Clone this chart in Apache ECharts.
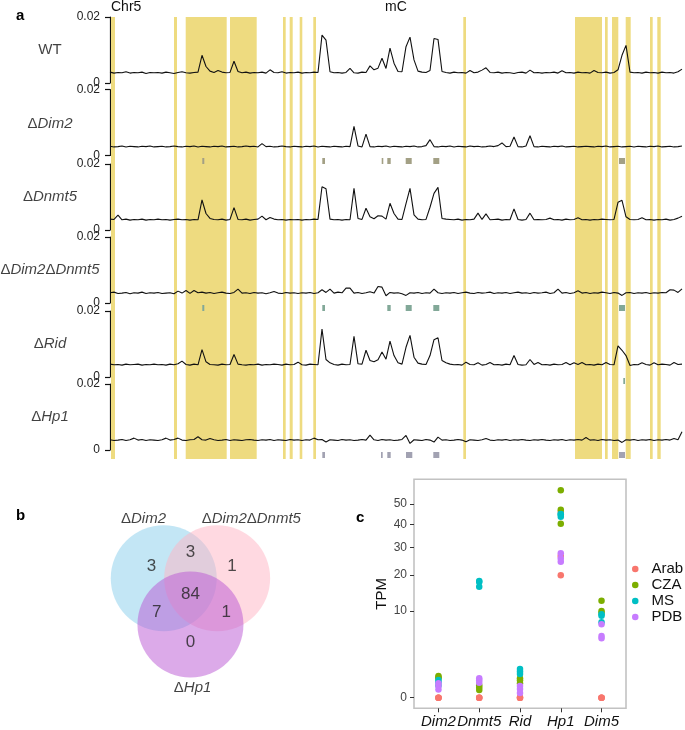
<!DOCTYPE html>
<html><head><meta charset="utf-8">
<script src="https://cdn.jsdelivr.net/npm/echarts@6/dist/echarts.min.js"></script>
<style>html,body{margin:0;padding:0;background:#fff}#c{width:685px;height:730px}</style>
</head><body><div id="c"></div>
<script>
const FONT = '"Liberation Sans", Arial, Helvetica, sans-serif';

// ---------- panel a : methylation tracks on Chr5 (values in 1e-3 units) ----------
const chromLenKb = 5750;
const binKb = 40;
const trackLabels = ['WT', 'ΔDim2', 'ΔDnmt5', 'ΔDim2ΔDnmt5', 'ΔRid', 'ΔHp1'];
const mcWT = [
 3.3,3.0,3.2,3.1,3.4,3.0,3.2,3.1,3.3,2.9,3.2,3.1,
 3.2,3.0,3.3,3.1,2.9,3.2,3.4,3.1,3.0,3.2,3.3,8.4,
 5.0,3.6,3.2,3.8,3.3,3.1,3.2,6.6,3.5,3.1,3.3,3.0,
 3.2,3.1,3.3,3.0,4.0,3.2,3.1,3.4,3.0,3.2,3.1,3.3,
 3.0,3.2,3.1,3.3,3.2,14.5,13.0,3.4,3.1,3.2,3.0,3.2,
 4.4,3.1,3.0,3.3,3.2,5.2,4.0,4.5,7.5,4.4,10.6,6.0,
 3.5,3.4,11.0,13.9,7.0,3.6,3.3,3.2,3.8,13.5,13.2,3.5,
 3.2,3.0,3.3,3.1,3.2,3.0,3.8,3.1,3.3,3.9,4.6,3.2,
 3.1,3.3,3.0,3.2,3.1,2.9,3.2,3.3,3.0,3.9,3.1,3.2,
 3.0,3.2,3.1,3.3,3.0,3.7,3.1,3.2,3.0,3.3,3.1,3.2,
 3.0,3.8,3.2,3.1,3.3,3.0,3.2,4.0,8.4,11.4,3.3,3.1,
 3.2,3.0,3.3,3.1,3.2,3.0,3.3,3.1,3.2,3.0,3.4,4.2];
const mcDim2 = [
 2.8,2.6,2.7,2.9,2.6,2.8,2.7,2.6,2.8,2.7,2.9,2.6,
 2.7,2.8,2.6,2.7,2.9,2.7,2.6,2.8,2.7,2.9,2.6,2.8,
 2.7,2.6,2.8,2.7,2.9,2.6,2.7,2.8,2.6,2.7,2.9,2.7,
 2.8,2.6,3.6,2.7,2.8,2.6,2.7,2.9,2.7,2.6,2.8,2.7,
 2.6,2.8,2.7,2.9,2.6,2.8,2.7,2.6,2.8,2.7,2.6,2.8,
 2.7,8.8,2.9,2.6,6.5,2.7,2.6,2.8,2.7,2.9,2.6,2.8,
 2.7,2.6,2.8,2.7,2.9,2.6,2.7,3.0,4.8,2.7,2.6,2.8,
 2.7,2.9,2.6,2.8,2.7,2.6,2.9,2.7,2.8,2.6,2.7,2.9,
 2.7,3.0,3.8,2.7,2.8,5.6,2.7,2.6,2.9,6.0,2.7,2.6,
 2.8,2.7,2.6,2.8,2.7,2.9,2.6,2.7,2.8,2.6,2.7,2.8,
 2.7,2.6,2.8,2.7,2.9,2.6,2.7,2.8,2.6,2.7,2.8,2.6,
 2.8,2.7,2.6,2.8,2.7,2.9,2.6,2.7,2.8,2.6,2.7,2.9];
const mcDnmt5 = [
 3.3,3.2,4.5,3.1,3.3,3.0,3.2,3.1,3.3,3.0,3.2,3.1,
 3.3,3.1,3.2,3.0,3.2,3.3,3.1,3.2,3.0,3.2,3.1,9.1,
 5.0,3.5,3.2,3.1,3.3,3.0,3.2,6.8,3.2,3.1,3.3,3.0,
 3.2,3.3,4.2,3.1,3.8,3.3,3.1,3.2,3.0,3.2,3.1,3.2,
 3.0,3.2,3.1,3.3,3.2,13.1,12.5,3.3,3.1,3.2,3.0,3.2,
 3.1,12.6,3.5,3.2,6.6,4.0,3.4,4.3,4.2,3.3,8.1,5.0,
 3.3,3.2,8.0,12.6,4.6,3.3,3.1,3.2,6.9,11.1,12.9,3.5,
 3.3,3.2,3.1,3.3,3.0,3.2,3.1,3.3,5.1,3.2,4.9,3.1,
 3.2,3.3,3.0,3.2,3.1,6.4,3.2,3.0,3.2,5.1,3.1,3.2,
 3.1,3.2,3.6,3.1,3.2,3.0,3.3,3.1,3.2,3.7,3.1,3.2,
 3.0,3.2,3.1,3.3,3.2,3.1,3.2,8.4,9.0,4.0,3.2,3.1,
 3.2,3.7,3.1,3.2,3.0,3.2,3.1,3.3,3.0,3.2,3.6,4.2];
const mcDim2Dnmt5 = [
 3.1,3.3,2.9,3.0,3.2,2.8,3.1,3.0,3.3,2.9,3.1,3.0,
 3.2,2.9,3.0,3.1,2.8,3.6,3.0,3.8,2.9,3.8,3.1,3.3,
 3.0,3.2,2.9,3.1,3.3,3.0,2.9,3.2,4.2,3.0,3.1,2.9,
 3.2,3.0,3.1,2.8,3.1,3.5,3.0,2.9,3.2,3.0,3.1,2.9,
 3.1,3.0,3.2,2.9,3.1,4.0,3.2,4.2,3.0,3.3,3.1,4.5,
 4.5,3.0,3.2,2.9,3.1,3.4,3.0,5.0,4.8,2.2,3.2,3.0,
 3.1,2.8,2.3,3.1,3.0,3.2,2.9,3.1,3.0,4.2,3.1,2.9,
 3.1,3.0,3.2,2.9,3.1,3.3,3.0,2.9,3.2,3.0,3.1,3.3,
 2.9,3.1,3.0,3.2,2.9,3.1,3.3,3.0,3.1,2.9,3.2,3.0,
 3.1,3.3,2.9,3.1,4.2,3.0,3.2,2.9,3.1,3.7,3.0,3.2,
 2.9,3.1,3.0,3.3,3.1,2.9,3.2,3.0,2.3,3.1,3.2,2.9,
 3.1,3.0,3.2,2.9,3.1,3.0,3.2,3.1,4.0,3.9,3.2,4.3];
const mcRid = [
 3.9,3.7,3.8,3.6,3.9,3.7,3.8,3.9,3.6,3.8,3.7,3.9,
 3.7,3.8,3.6,3.9,3.7,4.0,4.8,3.8,3.6,3.9,3.7,8.3,
 4.6,3.8,3.7,3.6,3.9,3.7,3.8,6.8,3.9,3.7,3.6,3.8,
 3.7,3.9,3.6,3.8,3.7,3.9,3.8,3.6,3.9,3.7,3.8,4.5,
 3.7,3.6,3.9,3.8,3.7,14.5,5.3,4.3,3.8,3.6,3.9,3.7,
 3.8,12.3,4.0,3.9,8.1,5.0,4.6,5.2,7.6,5.4,10.9,6.5,
 4.3,3.9,9.0,12.6,6.0,4.2,3.9,3.8,6.5,11.3,11.9,5.0,
 4.3,3.9,3.7,3.8,3.6,4.5,3.8,3.7,4.3,3.6,3.8,4.4,
 3.7,3.8,3.6,3.9,3.7,6.5,3.8,3.6,3.7,5.3,3.8,4.4,
 3.7,3.8,3.6,3.9,3.7,3.8,4.4,3.7,4.3,3.8,4.4,3.7,
 3.8,3.6,3.9,3.7,4.4,3.8,3.7,9.4,8.1,6.5,3.5,3.8,
 3.7,4.3,3.8,3.6,4.3,3.7,3.9,3.8,3.6,4.4,3.8,3.9];
const mcHp1 = [
 3.1,2.9,3.0,3.2,2.9,3.1,3.6,3.0,3.2,2.9,3.1,3.0,
 2.9,3.1,3.6,3.0,3.2,3.6,3.0,2.9,3.1,3.2,4.0,3.1,
 3.0,3.5,3.1,2.9,3.0,3.2,2.9,3.1,3.0,2.9,3.1,3.2,
 3.0,2.9,3.1,3.0,3.2,2.9,3.1,3.0,2.9,3.2,3.0,3.1,
 2.9,3.1,3.0,3.6,3.1,3.2,2.4,3.1,3.0,2.9,3.2,3.0,
 3.1,2.9,3.0,3.2,3.0,4.5,3.1,2.9,3.2,3.0,3.1,2.9,
 3.0,3.2,4.4,2.0,3.1,3.0,2.9,3.2,3.0,2.4,3.9,3.0,
 3.1,2.9,3.0,3.2,3.0,2.5,3.1,3.0,2.9,3.1,3.5,3.0,
 2.9,3.1,3.0,3.2,2.9,3.1,3.0,3.2,3.0,2.9,3.1,3.0,
 3.2,3.0,2.9,3.1,3.0,3.2,2.9,3.1,3.0,3.2,3.0,3.8,
 3.0,3.1,2.9,3.2,3.0,3.1,2.9,3.0,2.3,3.1,3.0,3.2,
 2.9,3.1,3.0,3.2,2.9,3.1,3.0,3.2,3.0,3.5,3.1,5.5];
const mcTracks = [mcWT, mcDim2, mcDnmt5, mcDim2Dnmt5, mcRid, mcHp1];

// highlighted regions (kb)
const yellowBands = [[10,50],[640,670],[757,1167],[1200,1467],[1730,1757],[1797,1827],[1897,1923],
  [2033,2060],[3533,3560],[4650,4920],[4950,4977],[5020,5083],[5157,5207],[5400,5427],[5473,5507]];
// DMRs (kb)
const dmrDim2 = [[923,943],[2123,2150],[2717,2733],[2773,2807],[2957,3017],[3233,3293],[5090,5150]];
const dmrDim2Dnmt5 = [[923,943],[2123,2150],[2773,2807],[2957,3017],[3233,3293],[5090,5150]];
const dmrRid = [[5133,5150]];
const dmrHp1 = [[2123,2150],[2710,2727],[2773,2807],[2960,3023],[3233,3293],[5090,5150]];

// ---------- panel b : Venn ----------
const vennSetNames = ['ΔDim2', 'ΔDim2ΔDnmt5', 'ΔHp1'];
const vennCenters = [[-0.5, 0.2887], [0.5, 0.2887], [0, -0.5774]];
const vennColors = ['rgba(135,206,235,0.5)', 'rgba(255,180,195,0.5)', 'rgba(186,85,211,0.5)'];
const vennCounts = [3, 3, 1, 84, 7, 1, 0];
const vennCountPos = [[-0.73,0.51],[0,0.77],[0.78,0.51],[0,-0.01],[-0.63,-0.34],[0.67,-0.34],[0,-0.91]];
const vennNamePos = [[-0.88,1.41],[1.14,1.41],[0.04,-1.77]];

// ---------- panel c : expression ----------
const genes = ['Dim2', 'Dnmt5', 'Rid', 'Hp1', 'Dim5'];
const conditions = ['Arab', 'CZA', 'MS', 'PDB'];
const condColors = ['#F8766D', '#7CAE00', '#00BFC4', '#C77CFF'];
const tpmArab = [0,0,0, 0,0,0, 0,0,0, 20,26.7,46, 0,0,0];
const tpmCZA  = [0.63,0.55,0.5, 0.21,0.14,0.08, 0.5,0.4,0.28, 57.3,47,40.3, 12.5,10.0,9.6];
const tpmMS   = [0.42,0.32,0.2, 18.1,17.8,16.4, 1.1,0.91,0.75, 44.8,43.6,45.0, 9.3,8.95,7.6];
const tpmPDB  = [0.28,0.18,0.09, 0.5,0.4,0.3, 0.18,0.1,0.03, 27.8,25.8,24.6, 7.2,5.07,4.7];
const tpmSets = [tpmArab, tpmCZA, tpmMS, tpmPDB];
const tpmTicks = [0, 10, 20, 30, 40, 50];

// =================================================================
const grids = [], xAxes = [], yAxes = [], series = [];
function addGrid(g, x, y) {
  grids.push(Object.assign({containLabel:false, outerBoundsMode:'none'}, g));
  const i = grids.length - 1;
  xAxes.push(Object.assign({gridIndex: i}, x));
  yAxes.push(Object.assign({gridIndex: i}, y));
  return i;
}
const hiddenX = {type:'value', min:0, max:chromLenKb, show:false};
const hiddenY01 = {type:'value', min:0, max:1, show:false};
function rectRender(color) {
  return function (params, api) {
    const a = api.coord([api.value(0), 1]);
    const b = api.coord([api.value(1), 0]);
    return {type:'rect', shape:{x:a[0], y:a[1], width:Math.max(1.5, b[0]-a[0]), height:b[1]-a[1]}, style:{fill:color}};
  };
}
function richLabel(s) {
  if (s[0] !== 'Δ') return s;
  return s.split('Δ').filter(Boolean).map(p => '{d|Δ}{i|' + p + '}').join('');
}
const richStyles = {
  d: {fontFamily: FONT, fontSize: 15, color: '#111', fontStyle: 'normal'},
  i: {fontFamily: FONT, fontSize: 15, color: '#111', fontStyle: 'italic'}
};

// yellow bands
const gBand = addGrid({left:110, width:575, top:17, height:442}, hiddenX, hiddenY01);
series.push({type:'custom', xAxisIndex:gBand, yAxisIndex:gBand, data:yellowBands, renderItem:rectRender('#EEDB80'), silent:true, z:1, clip:false});

// DMR rows
const dmrRows = [
  {data: dmrDim2, top: 158, color:'#a3a085'},
  {data: dmrDim2Dnmt5, top: 305, color:'#82a898'},
  {data: dmrRid, top: 378, color:'#82a898'},
  {data: dmrHp1, top: 452, color:'#a2a2b2'}
];
dmrRows.forEach(r => {
  const g = addGrid({left:110, width:575, top:r.top, height:6}, hiddenX, hiddenY01);
  series.push({type:'custom', xAxisIndex:g, yAxisIndex:g, data:r.data, renderItem:rectRender(r.color), silent:true, z:2, clip:false});
});

// tracks
const trackTops = [17, 89.5, 164, 237, 311, 384];
mcTracks.forEach((vals, k) => {
  const g = addGrid({left:110, width:575, top:trackTops[k], height:66}, hiddenX, {
    type:'value', min:0, max:20, interval:20,
    axisLine:{show:true, lineStyle:{color:'#111', width:1.2}},
    axisTick:{show:true, length:5, lineStyle:{color:'#111', width:1.2}},
    splitLine:{show:false},
    axisLabel:{margin:10, fontFamily:FONT, fontSize:12, color:'#222', formatter: v => v === 0 ? '0' : String(v/1000)}
  });
  series.push({type:'line', xAxisIndex:g, yAxisIndex:g, data: vals.map((v, i) => [i*binKb, v]),
    showSymbol:false, symbol:'none', lineStyle:{color:'#111', width:1.1}, silent:true, z:3});
});
// track name labels (one row per track)
const gNames = addGrid({left:0, width:100, top:13.3, height:440.4},
  {type:'value', min:0, max:1, show:false},
  {type:'category', data:trackLabels, inverse:true, show:false});
series.push({type:'scatter', xAxisIndex:gNames, yAxisIndex:gNames, symbolSize:0, silent:true, z:4,
  data: trackLabels.map(t => ({value:[0.5, t], name:t})),
  label:{show:true, position:'inside', formatter: p => richLabel(p.name), fontFamily:FONT, fontSize:15, color:'#111', rich: richStyles}});

// Venn
const gVenn = addGrid({left:83.65, top:486.9, width:213.6, height:213.6},
  {type:'value', min:-2, max:2, show:false}, {type:'value', min:-2, max:2, show:false});
series.push({type:'scatter', xAxisIndex:gVenn, yAxisIndex:gVenn, symbolSize:106, silent:true, z:2,
  data: vennCenters.map((c, i) => ({value:c, itemStyle:{color:vennColors[i], opacity:1}}))});
series.push({type:'scatter', xAxisIndex:gVenn, yAxisIndex:gVenn, symbolSize:0, silent:true, z:4,
  data: vennCountPos.map((p, i) => ({value:p, name:String(vennCounts[i])})),
  label:{show:true, position:'inside', formatter: p => p.name, fontFamily:FONT, fontSize:17, color:'#222'}});
series.push({type:'scatter', xAxisIndex:gVenn, yAxisIndex:gVenn, symbolSize:0, silent:true, z:4,
  data: vennNamePos.map((p, i) => ({value:p, name:vennSetNames[i]})),
  label:{show:true, position:'inside', formatter: p => richLabel(p.name), rich: richStyles}});

// Expression panel
const gExp = addGrid({left:414, top:479.3, width:212, height:229, show:true, borderColor:'#c2c2c2', borderWidth:1.6},
  {type:'value', min:0.4, max:5.6, splitLine:{show:false}, axisLine:{show:false, onZero:false},
   axisTick:{show:true, length:4, customValues:[1,2,3,4,5], lineStyle:{color:'#333'}},
   axisLabel:{customValues:[1,2,3,4,5], margin:6, formatter: v => genes[Math.round(v)-1], fontFamily:FONT, fontSize:15, fontStyle:'italic', color:'#111'}},
  {type:'value', min:-0.387, max:7.97, splitLine:{show:false}, axisLine:{show:false, onZero:false},
   name:'TPM', nameLocation:'middle', nameGap:22.5, nameRotate:90,
   nameTextStyle:{fontFamily:FONT, fontSize:15, color:'#111'},
   axisTick:{show:true, length:4, customValues: tpmTicks.map(Math.sqrt), lineStyle:{color:'#333'}},
   axisLabel:{customValues: tpmTicks.map(Math.sqrt), margin:7, formatter: v => String(Math.round(v*v)), fontFamily:FONT, fontSize:12, color:'#444'}});
tpmSets.forEach((vals, c) => {
  series.push({type:'scatter', name:conditions[c], xAxisIndex:gExp, yAxisIndex:gExp, symbolSize:6.5,
    itemStyle:{color:condColors[c], opacity:1}, z:3, silent:true,
    data: vals.map((v, j) => [Math.floor(j/3)+1, Math.sqrt(v)])});
});

const titleStyle = {fontFamily:FONT, fontSize:15, fontWeight:'bold', color:'#000'};
const option = {
  animation:false,
  backgroundColor:'#fff',
  grid: grids, xAxis: xAxes, yAxis: yAxes, series: series,
  legend: {data: conditions, orient:'vertical', left:632, top:561, padding:0, itemWidth:6.5, itemHeight:6.5, itemGap:0,
    icon:'circle', selectedMode:false,
    textStyle:{fontFamily:FONT, fontSize:15, color:'#111', lineHeight:16, padding:[0,0,0,8]}},
  title: [
    {text:'a', left:16, top:8, padding:0, textStyle:titleStyle},
    {text:'b', left:16, top:508, padding:0, textStyle:titleStyle},
    {text:'c', left:356, top:510, padding:0, textStyle:titleStyle},
    {text:'Chr5', left:111, top:0, padding:0, textStyle:{fontFamily:FONT, fontSize:14, fontWeight:'normal', color:'#111'}},
    {text:'mC', left:385, top:0, padding:0, textStyle:{fontFamily:FONT, fontSize:14, fontWeight:'normal', color:'#111'}}
  ]
};
const chart = echarts.init(document.getElementById('c'));
chart.setOption(option);
</script>
</body></html>
